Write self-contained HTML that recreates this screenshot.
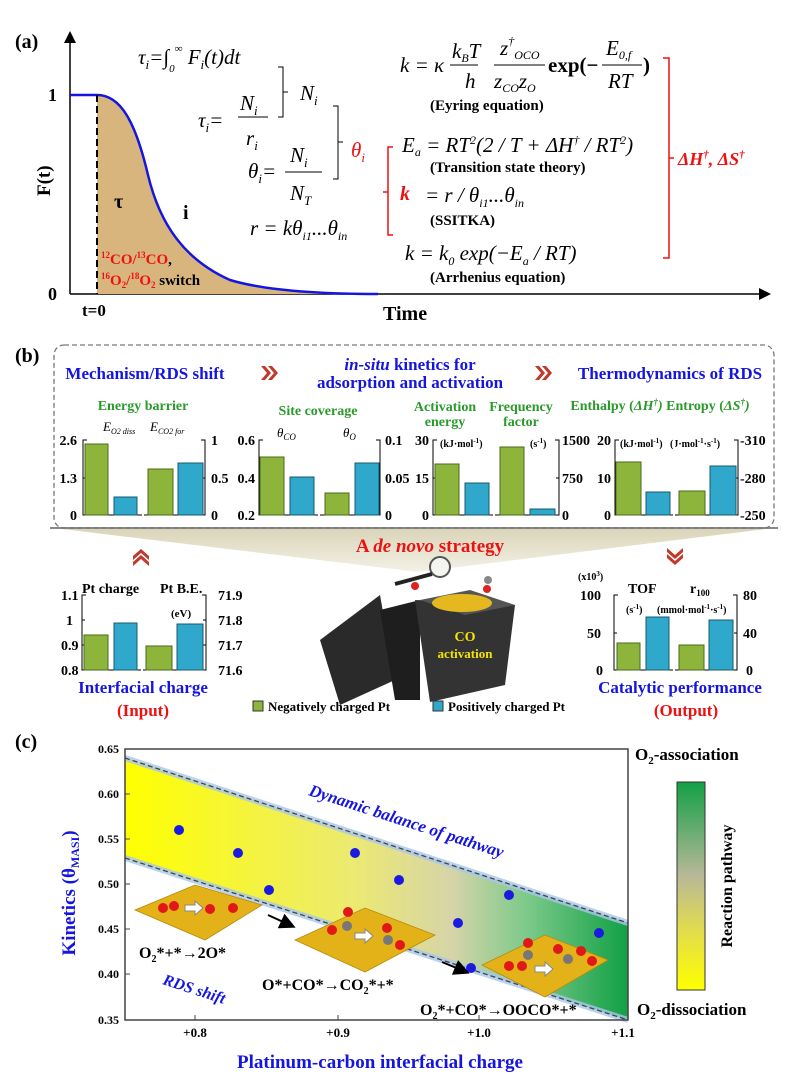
<!DOCTYPE html>
<html><head><meta charset="utf-8"><style>
html,body{margin:0;padding:0;background:#fff}
svg{display:block}
text{font-family:"Liberation Serif",serif;font-weight:bold}
.it{font-style:italic;font-weight:normal}
</style></head><body>
<svg width="799" height="1084" viewBox="0 0 799 1084" xmlns="http://www.w3.org/2000/svg">
<defs>
<linearGradient id="band" x1="0" x2="1" y1="0" y2="0">
<stop offset="0" stop-color="#ffff00"/><stop offset="0.45" stop-color="#ecea70"/><stop offset="0.65" stop-color="#d6d4a8"/><stop offset="0.8" stop-color="#7cc98a"/><stop offset="1" stop-color="#12a045"/></linearGradient>
<linearGradient id="cbar" x1="0" x2="0" y1="0" y2="1">
<stop offset="0" stop-color="#12a045"/><stop offset="0.45" stop-color="#b8b898"/><stop offset="0.7" stop-color="#e0da50"/><stop offset="1" stop-color="#ffff00"/></linearGradient>
<linearGradient id="fan" x1="0" x2="0" y1="0" y2="1"><stop offset="0" stop-color="#d9d4b8"/><stop offset="1" stop-color="#f3f1e6"/></linearGradient>
<marker id="ar" markerWidth="8" markerHeight="8" refX="6" refY="4" orient="auto"><path d="M0,0 L8,4 L0,8z" fill="#000"/></marker>
</defs>

<!-- Panel a -->
<text x="15" y="48" font-size="20">(a)</text>
<line x1="70" y1="294" x2="70" y2="34" stroke="#000" stroke-width="1.5" marker-end="url(#ar)"/>
<line x1="70" y1="294" x2="768" y2="294" stroke="#000" stroke-width="1.5" marker-end="url(#ar)"/>
<path d="M97,95 C120,95 135,120 148,175 C160,225 185,260 230,280 C270,292 330,294 378,294 L97,294Z" fill="#d8b57c"/>
<path d="M70,95 L97,95 C120,95 135,120 148,175 C160,225 185,260 230,280 C270,292 330,294 378,294" fill="none" stroke="#1515e0" stroke-width="2.5"/>
<line x1="97" y1="95" x2="97" y2="294" stroke="#000" stroke-width="2" stroke-dasharray="7,4"/>
<text x="48" y="101" font-size="18">1</text>
<text x="48" y="300" font-size="18">0</text>
<text x="82" y="316" font-size="17">t=0</text>
<text x="383" y="320" font-size="20">Time</text>
<text transform="translate(50,196) rotate(-90)" font-size="19">F(t)</text>
<text x="114" y="208" font-size="20">τ</text>
<text x="183" y="219" font-size="20">i</text>
<text x="101" y="264" font-size="15" fill="#e11"><tspan font-size="9" dy="-6">12</tspan><tspan dy="6">CO/</tspan><tspan font-size="9" dy="-6">13</tspan><tspan dy="6">CO</tspan><tspan fill="#000">,</tspan></text>
<text x="101" y="285" font-size="15" fill="#e11"><tspan font-size="9" dy="-6">16</tspan><tspan dy="6">O</tspan><tspan font-size="9" dy="3">2</tspan><tspan dy="-3">/</tspan><tspan font-size="9" dy="-6">18</tspan><tspan dy="6">O</tspan><tspan font-size="9" dy="3">2</tspan><tspan dy="-3" fill="#000"> switch</tspan></text>

<g font-size="21" class="it" font-family="Liberation Serif">
<text x="138" y="64" class="it">τ<tspan font-size="13" dy="5">i</tspan><tspan dy="-5">=∫</tspan><tspan font-size="11" dy="8">0</tspan><tspan font-size="11" dy="-20">∞</tspan><tspan dy="12"> F</tspan><tspan font-size="13" dy="5">i</tspan><tspan dy="-5">(t)dt</tspan></text>
<text x="198" y="127" class="it">τ<tspan font-size="13" dy="5">i</tspan><tspan dy="-5">=</tspan></text>
<text x="240" y="110" class="it">N<tspan font-size="13" dy="5">i</tspan></text>
<line x1="238" y1="117" x2="268" y2="117" stroke="#000"/>
<text x="246" y="145" class="it">r<tspan font-size="13" dy="5">i</tspan></text>
<text x="300" y="100" class="it">N<tspan font-size="13" dy="5">i</tspan></text>
<text x="248" y="178" class="it">θ<tspan font-size="13" dy="5">i</tspan><tspan dy="-5">=</tspan></text>
<text x="290" y="162" class="it">N<tspan font-size="13" dy="5">i</tspan></text>
<line x1="285" y1="172" x2="322" y2="172" stroke="#000"/>
<text x="290" y="200" class="it">N<tspan font-size="13" dy="5">T</tspan></text>
<text x="250" y="235" class="it">r = kθ<tspan font-size="12" dy="5">i1</tspan><tspan dy="-5">...θ</tspan><tspan font-size="12" dy="5">in</tspan></text>
<text x="400" y="72" class="it">k = κ</text>
<text x="452" y="58" class="it">k<tspan font-size="12" dy="4">B</tspan><tspan dy="-4">T</tspan></text>
<line x1="450" y1="65" x2="478" y2="65" stroke="#000"/>
<text x="465" y="88" class="it">h</text>
<text x="500" y="55" class="it">z<tspan font-size="12" dy="-10">†</tspan><tspan font-size="12" dy="14">OCO</tspan></text>
<line x1="494" y1="65" x2="545" y2="65" stroke="#000"/>
<text x="494" y="88" class="it">z<tspan font-size="12" dy="4">CO</tspan><tspan dy="-4">z</tspan><tspan font-size="12" dy="4">O</tspan></text>
<text x="548" y="72" font-style="normal">exp(−</text>
<text x="606" y="55" class="it">E<tspan font-size="12" dy="4">0,f</tspan></text>
<line x1="602" y1="65" x2="642" y2="65" stroke="#000"/>
<text x="608" y="88" class="it">RT</text>
<text x="643" y="72" font-style="normal">)</text>
<text x="402" y="152" class="it">E<tspan font-size="12" dy="4">a</tspan><tspan dy="-4"> = RT</tspan><tspan font-size="12" dy="-8">2</tspan><tspan dy="8">(2 / T + ΔH</tspan><tspan font-size="12" dy="-8">†</tspan><tspan dy="8"> / RT</tspan><tspan font-size="12" dy="-8">2</tspan><tspan dy="8">)</tspan></text>
<text x="425" y="202" class="it">= r / θ<tspan font-size="12" dy="5">i1</tspan><tspan dy="-5">...θ</tspan><tspan font-size="12" dy="5">in</tspan></text>
<text x="405" y="260" class="it">k = k<tspan font-size="12" dy="5">0</tspan><tspan dy="-5"> exp(−E</tspan><tspan font-size="12" dy="5">a</tspan><tspan dy="-5"> / RT)</tspan></text>
</g>
<g font-size="15">
<text x="430" y="110">(Eyring equation)</text>
<text x="430" y="172">(Transition state theory)</text>
<text x="430" y="225">(SSITKA)</text>
<text x="430" y="282">(Arrhenius equation)</text>
</g>
<path d="M278,67 h5 v50 h-5 M283,92 h5" fill="none" stroke="#000"/>
<path d="M333,106 h5 v73 h-5 M338,142 h5" fill="none" stroke="#000"/>
<text x="351" y="157" font-size="21" fill="#e11" class="it" font-weight="bold">θ<tspan font-size="13" dy="5">i</tspan></text>
<path d="M393,147 h-5 v88 h5 M388,192 h-5" fill="none" stroke="#e11" stroke-width="1.5"/>
<text x="400" y="200" font-size="20" fill="#e11" font-style="italic">k</text>
<path d="M663,58 h6 v200 h-6 M669,158 h5" fill="none" stroke="#e11" stroke-width="1.5"/>
<text x="678" y="165" font-size="18" fill="#e11" font-style="italic">ΔH<tspan font-size="11" dy="-7">†</tspan><tspan dy="7">, ΔS</tspan><tspan font-size="11" dy="-7">†</tspan></text>

<!-- Panel b -->
<text x="15" y="362" font-size="20">(b)</text>
<path d="M418,572 L54,528 L774,528Z" fill="url(#fan)"/>
<line x1="50" y1="528" x2="778" y2="528" stroke="#888" stroke-width="2"/>
<rect x="54" y="345" width="720" height="183" rx="10" fill="none" stroke="#777" stroke-dasharray="5,3" stroke-width="1.3"/>
<g font-size="17" fill="#1515e0" text-anchor="middle">
<text x="145" y="379">Mechanism/RDS shift</text>
<text x="410" y="370"><tspan font-style="italic">in-situ</tspan> kinetics for</text>
<text x="410" y="388">adsorption and activation</text>
<text x="670" y="379">Thermodynamics of RDS</text>
</g>
<g fill="#c0392b"><path d="M261,366 l6,7 l-6,7 h4 l6,-7 l-6,-7z M268,366 l6,7 l-6,7 h4 l6,-7 l-6,-7z"/>
<path d="M535,366 l6,7 l-6,7 h4 l6,-7 l-6,-7z M542,366 l6,7 l-6,7 h4 l6,-7 l-6,-7z"/></g>
<g font-size="14" fill="#2a9a2a" text-anchor="middle">
<text x="143" y="410">Energy barrier</text>
<text x="318" y="415">Site coverage</text>
<text x="445" y="411">Activation</text><text x="445" y="426">energy</text>
<text x="521" y="411">Frequency</text><text x="521" y="426">factor</text>
<text x="660" y="410">Enthalpy (<tspan font-style="italic">ΔH<tspan font-size="9" dy="-5">†</tspan><tspan dy="5">)</tspan></tspan> Entropy (<tspan font-style="italic">ΔS<tspan font-size="9" dy="-5">†</tspan><tspan dy="5">)</tspan></tspan></text>
</g>
<g font-size="14" text-anchor="end">
<text x="77" y="445">2.6</text><text x="77" y="483">1.3</text><text x="77" y="520">0</text>
<text x="255" y="445">0.6</text><text x="255" y="483">0.4</text><text x="255" y="520">0.2</text>
<text x="429" y="445">30</text><text x="429" y="483">15</text><text x="429" y="520">0</text>
<text x="611" y="445">20</text><text x="611" y="483">10</text><text x="611" y="520">0</text>
</g>
<g font-size="14">
<text x="211" y="445">1</text><text x="211" y="483">0.5</text><text x="211" y="520">0</text>
<text x="385" y="445">0.1</text><text x="385" y="483">0.05</text><text x="385" y="520">0</text>
<text x="562" y="445">1500</text><text x="562" y="483">750</text><text x="562" y="520">0</text>
<text x="740" y="445">-310</text><text x="740" y="483">-280</text><text x="740" y="520">-250</text>
</g>
<g font-size="13" font-style="italic">
<text x="103" y="431" style="font-weight:normal">E<tspan font-size="8" dy="3">O2 diss</tspan></text>
<text x="150" y="431" style="font-weight:normal">E<tspan font-size="8" dy="3">CO2 for</tspan></text>
<text x="277" y="437" style="font-weight:normal">θ<tspan font-size="9" dy="3">CO</tspan></text>
<text x="343" y="437" style="font-weight:normal">θ<tspan font-size="9" dy="3">O</tspan></text>
</g>
<g font-size="10">
<text x="440" y="447">(kJ·mol<tspan font-size="7" dy="-4">-1</tspan><tspan dy="4">)</tspan></text>
<text x="530" y="447">(s<tspan font-size="7" dy="-4">-1</tspan><tspan dy="4">)</tspan></text>
<text x="620" y="447">(kJ·mol<tspan font-size="7" dy="-4">-1</tspan><tspan dy="4">)</tspan></text>
<text x="670" y="447">(J·mol<tspan font-size="7" dy="-4">-1</tspan><tspan dy="4">·s</tspan><tspan font-size="7" dy="-4">-1</tspan><tspan dy="4">)</tspan></text>
</g>
<g stroke="#000" stroke-width="1" fill="none">
<path d="M87,440 h-4 v75 h122 v-75 h-4 M83,478 h3 M205,478 h-3"/>
<path d="M263,440 h-4 v75 h121 v-75 h-4 M259,478 h3 M380,478 h-3"/>
<path d="M437,440 h-4 v75 h126 v-75 h-4 M433,478 h3 M559,478 h-3"/>
<path d="M619,440 h-4 v75 h123 v-75 h-4 M615,478 h3 M738,478 h-3"/>
<path d="M86,595 h-4 v75 h124 v-75 h-4 M82,620 h3 M82,645 h3 M206,620 h-3 M206,645 h-3"/>
<path d="M618,595 h-4 v75 h123 v-75 h-4 M614,633 h3 M737,633 h-3"/>
</g>
<g stroke="#4a6a1a" stroke-width="1" fill="#8db53c">
<rect x="85" y="444" width="23" height="71"/><rect x="148" y="469" width="25" height="46"/>
<rect x="260" y="457" width="24" height="58"/><rect x="325" y="493" width="24" height="22"/>
<rect x="435" y="464" width="24" height="51"/><rect x="500" y="447" width="24" height="68"/>
<rect x="616" y="462" width="25" height="53"/><rect x="679" y="491" width="26" height="24"/>
<rect x="84" y="635" width="24" height="35"/><rect x="146" y="646" width="26" height="24"/>
<rect x="617" y="643" width="23" height="27"/><rect x="679" y="645" width="25" height="25"/>
</g>
<g stroke="#1a5a70" stroke-width="1" fill="#2fa8cc">
<rect x="114" y="497" width="23" height="18"/><rect x="178" y="463" width="25" height="52"/>
<rect x="290" y="477" width="24" height="38"/><rect x="355" y="463" width="24" height="52"/>
<rect x="465" y="483" width="24" height="32"/><rect x="530" y="509" width="25" height="6"/>
<rect x="646" y="492" width="24" height="23"/><rect x="710" y="466" width="26" height="49"/>
<rect x="114" y="623" width="23" height="47"/><rect x="177" y="624" width="26" height="46"/>
<rect x="646" y="617" width="23" height="53"/><rect x="709" y="620" width="24" height="50"/>
</g>
<g stroke="#fff" stroke-width="2"><line x1="143" y1="440" x2="143" y2="516"/><line x1="319" y1="440" x2="319" y2="516"/><line x1="494" y1="440" x2="494" y2="516"/><line x1="674" y1="440" x2="674" y2="516"/><line x1="142" y1="595" x2="142" y2="671"/><line x1="674" y1="595" x2="674" y2="671"/></g>
<text x="430" y="552" font-size="19" fill="#e11" text-anchor="middle">A <tspan font-style="italic">de novo</tspan> strategy</text>
<g fill="#c0392b"><path d="M133,566 l8,-7 l8,7 v-4 l-8,-7 l-8,7z M133,560 l8,-7 l8,7 v-4 l-8,-7 l-8,7z"/>
<path d="M667,548 l8,7 l8,-7 v4 l-8,7 l-8,-7z M667,554 l8,7 l8,-7 v4 l-8,7 l-8,-7z"/></g>
<g font-size="14">
<text x="61" y="600">1.1</text><text x="66" y="625">1</text><text x="61" y="650">0.9</text><text x="61" y="675">0.8</text>
<text x="218" y="600">71.9</text><text x="218" y="625">71.8</text><text x="218" y="650">71.7</text><text x="218" y="675">71.6</text>
<text x="82" y="593">Pt charge</text><text x="160" y="593">Pt B.E.</text>
<text x="171" y="617" font-size="11">(eV)</text>
<text x="578" y="580" font-size="10" font-weight="normal">(x10<tspan font-size="7" dy="-4">3</tspan><tspan dy="4">)</tspan></text>
<text x="580" y="600">100</text><text x="587" y="638">50</text><text x="596" y="675">0</text>
<text x="743" y="600">80</text><text x="743" y="638">40</text><text x="746" y="675">0</text>
<text x="628" y="593">TOF</text><text x="690" y="593">r<tspan font-size="9" dy="3">100</tspan></text>
<text x="626" y="613" font-size="10">(s<tspan font-size="7" dy="-4">-1</tspan><tspan dy="4">)</tspan></text>
<text x="657" y="613" font-size="10">(mmol·mol<tspan font-size="7" dy="-4">-1</tspan><tspan dy="4">·s</tspan><tspan font-size="7" dy="-4">-1</tspan><tspan dy="4">)</tspan></text>
</g>
<g font-size="17" text-anchor="middle">
<text x="143" y="693" fill="#1515e0">Interfacial charge</text>
<text x="143" y="716" fill="#e11">(Input)</text>
<text x="680" y="693" fill="#1515e0">Catalytic performance</text>
<text x="686" y="716" fill="#e11">(Output)</text>
</g>
<rect x="253" y="701" width="10" height="10" fill="#8db53c" stroke="#333"/>
<text x="268" y="711" font-size="13">Negatively charged Pt</text>
<rect x="433" y="701" width="10" height="10" fill="#2fa8cc" stroke="#333"/>
<text x="448" y="711" font-size="13">Positively charged Pt</text>
<polygon points="320,640 380,595 395,680 340,705" fill="#2a2a2a"/>
<polygon points="380,610 420,600 420,700 395,700" fill="#1e1e1e"/>
<polygon points="415,600 515,605 505,685 430,702" fill="#333"/>
<polygon points="420,600 470,590 515,605 465,615" fill="#555"/>
<ellipse cx="462" cy="603" rx="30" ry="9" fill="#e6b820"/>
<text x="465" y="641" font-size="14" fill="#f5e400" text-anchor="middle">CO</text>
<text x="465" y="658" font-size="13" fill="#f5e400" text-anchor="middle">activation</text>
<circle cx="440" cy="567" r="10" fill="#f4f4f0" stroke="#555" stroke-width="2"/>
<line x1="432" y1="574" x2="395" y2="584" stroke="#222" stroke-width="4"/>
<circle cx="415" cy="586" r="4" fill="#d22"/><circle cx="488" cy="580" r="4" fill="#888"/><circle cx="487" cy="589" r="4" fill="#d22"/>

<!-- Panel c -->
<text x="15" y="748" font-size="20">(c)</text>
<polygon points="125,758 628,923 628,1020 125,858" fill="url(#band)"/>
<g stroke="#a8c8ec" stroke-width="6" opacity="0.8"><line x1="125" y1="758" x2="628" y2="923"/><line x1="125" y1="858" x2="628" y2="1020"/></g>
<g stroke="#444" stroke-width="1.3" stroke-dasharray="5,3"><line x1="125" y1="758" x2="628" y2="923"/><line x1="125" y1="858" x2="628" y2="1020"/></g>
<rect x="125" y="749" width="503" height="271" fill="none" stroke="#444" stroke-width="1.5"/>
<g font-size="12" text-anchor="end">
<text x="119" y="753">0.65</text><text x="119" y="798">0.60</text><text x="119" y="843">0.55</text><text x="119" y="888">0.50</text><text x="119" y="933">0.45</text><text x="119" y="978">0.40</text><text x="119" y="1024">0.35</text>
</g>
<g stroke="#444"><line x1="125" y1="794" x2="130" y2="794"/><line x1="125" y1="839" x2="130" y2="839"/><line x1="125" y1="884" x2="130" y2="884"/><line x1="125" y1="929" x2="130" y2="929"/><line x1="125" y1="974" x2="130" y2="974"/>
<line x1="195" y1="1020" x2="195" y2="1015"/><line x1="338" y1="1020" x2="338" y2="1015"/><line x1="479" y1="1020" x2="479" y2="1015"/></g>
<g font-size="13" text-anchor="middle"><text x="195" y="1037">+0.8</text><text x="338" y="1037">+0.9</text><text x="479" y="1037">+1.0</text><text x="623" y="1037">+1.1</text></g>
<text x="380" y="1068" font-size="19" fill="#1515e0" text-anchor="middle">Platinum-carbon interfacial charge</text>
<text transform="translate(75,893) rotate(-90)" font-size="19" fill="#1515e0" text-anchor="middle">Kinetics (θ<tspan font-size="12" dy="4">MASI</tspan><tspan dy="-4">)</tspan></text>
<text transform="translate(308,795) rotate(18)" font-size="17" fill="#1515e0" font-style="italic">Dynamic balance of pathway</text>
<text transform="translate(162,984) rotate(18)" font-size="16" fill="#1515e0" font-style="italic">RDS shift</text>
<g fill="#1a1ae0"><circle cx="179" cy="830" r="5"/><circle cx="238" cy="853" r="5"/><circle cx="269" cy="890" r="5"/><circle cx="355" cy="853" r="5"/><circle cx="399" cy="880" r="5"/><circle cx="458" cy="923" r="5"/><circle cx="471" cy="968" r="5"/><circle cx="509" cy="895" r="5"/><circle cx="599" cy="933" r="5"/></g>
<g fill="#e3b218" stroke="#b8890a" stroke-width="0.8">
<polygon points="135,910 195,885 262,905 205,940"/>
<polygon points="295,940 365,908 435,935 365,972"/>
<polygon points="482,965 545,935 608,960 545,997"/>
</g>
<g fill="#e01818"><circle cx="163" cy="908" r="5"/><circle cx="174" cy="906" r="5"/><circle cx="210" cy="909" r="5"/><circle cx="233" cy="908" r="5"/>
<circle cx="332" cy="930" r="5"/><circle cx="348" cy="912" r="5"/><circle cx="387" cy="928" r="5"/><circle cx="400" cy="945" r="5"/>
<circle cx="509" cy="966" r="5"/><circle cx="522" cy="966" r="5"/><circle cx="528" cy="943" r="5"/><circle cx="558" cy="949" r="5"/><circle cx="581" cy="951" r="5"/><circle cx="592" cy="961" r="5"/></g>
<g fill="#777"><circle cx="347" cy="926" r="5"/><circle cx="388" cy="940" r="5"/><circle cx="528" cy="955" r="5"/><circle cx="568" cy="959" r="5"/></g>
<g fill="#fff" stroke="#888"><polygon points="185,905 195,905 195,901 203,908 195,915 195,911 185,911"/><polygon points="355,933 365,933 365,929 373,936 365,943 365,939 355,939"/><polygon points="535,966 545,966 545,962 553,969 545,976 545,972 535,972"/></g>
<line x1="268" y1="915" x2="292" y2="926" stroke="#000" stroke-width="2" marker-end="url(#ar)"/>
<line x1="442" y1="962" x2="466" y2="972" stroke="#000" stroke-width="2" marker-end="url(#ar)"/>
<g font-size="16"><text x="139" y="958">O<tspan font-size="10" dy="4">2</tspan><tspan dy="-4">*+*→2O*</tspan></text>
<text x="262" y="990">O*+CO*→CO<tspan font-size="10" dy="4">2</tspan><tspan dy="-4">*+*</tspan></text>
<text x="420" y="1015">O<tspan font-size="10" dy="4">2</tspan><tspan dy="-4">*+CO*→OOCO*+*</tspan></text></g>
<rect x="677" y="782" width="28" height="208" fill="url(#cbar)" stroke="#333"/>
<text transform="translate(732,886) rotate(-90)" font-size="16" text-anchor="middle">Reaction pathway</text>
<text x="635" y="760" font-size="17">O<tspan font-size="11" dy="4">2</tspan><tspan dy="-4">-association</tspan></text>
<text x="637" y="1015" font-size="17">O<tspan font-size="11" dy="4">2</tspan><tspan dy="-4">-dissociation</tspan></text>
</svg>
</body></html>
